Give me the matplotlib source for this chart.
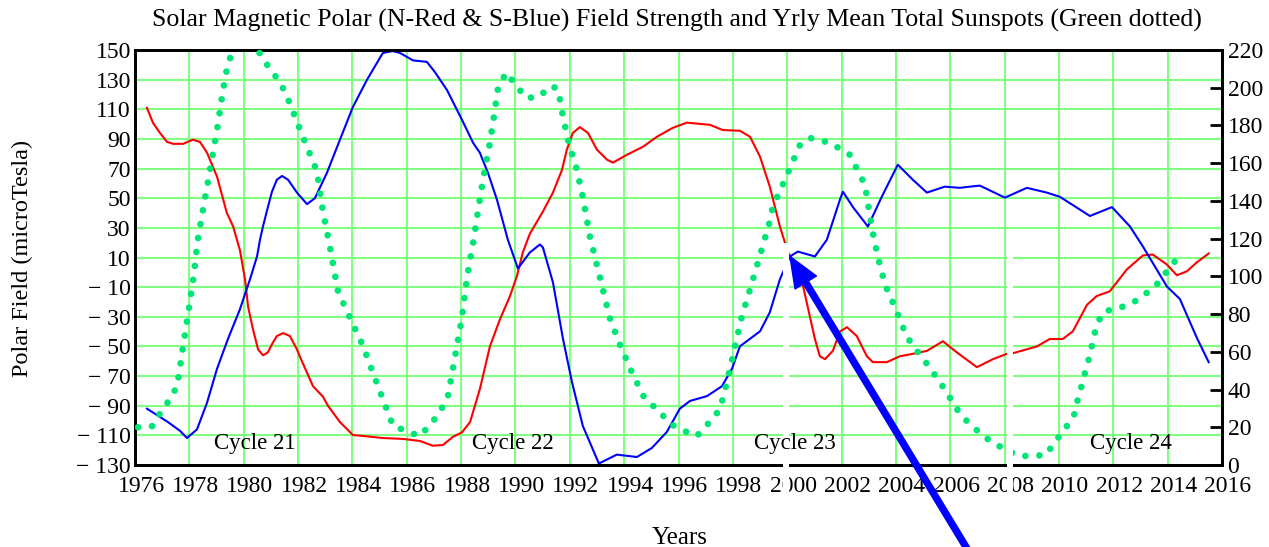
import numpy as np
import matplotlib
matplotlib.use("Agg")
import matplotlib.pyplot as plt
from matplotlib.patches import Rectangle
from matplotlib.transforms import ScaledTranslation

plt.rcParams.update({"font.family": "Liberation Serif", "font.size": 17})

RED, BLUE, SUN, GRID = "#ff0000", "#0000ff", "#00e676", "#80ff80"

# north polar field (microTesla)
north_yr = [1976.44, 1976.66, 1976.92, 1977.18, 1977.40, 1977.77, 1978.13, 1978.39, 1978.65,
            1979.02, 1979.38, 1979.61, 1979.86, 1980.05, 1980.16, 1980.34, 1980.53, 1980.71,
            1980.89, 1981.04, 1981.22, 1981.45, 1981.70, 1981.96, 1982.07, 1982.55, 1982.92,
            1983.10, 1983.54, 1984.02, 1984.39, 1985.12, 1985.86, 1986.49, 1986.96, 1987.33,
            1987.70, 1988.03, 1988.33, 1988.69, 1989.06, 1989.43, 1989.80, 1990.05, 1990.27,
            1990.53, 1991.01, 1991.38, 1991.71, 1991.89, 1992.11, 1992.37, 1992.67, 1993.00,
            1993.37, 1993.59, 1994.10, 1994.69, 1995.21, 1995.79, 1996.31, 1997.16, 1997.63,
            1998.26, 1998.63, 1999.00, 1999.36, 1999.73, 2000.03, 2000.47, 2001.02, 2001.20,
            2001.39, 2001.68, 2001.94, 2002.20, 2002.56, 2002.93, 2003.15, 2003.67, 2004.15,
            2004.62, 2005.14, 2005.73, 2006.24, 2006.98, 2007.57, 2008.08, 2008.30, 2009.19,
            2009.66, 2010.14, 2010.51, 2011.03, 2011.39, 2011.87, 2012.50, 2013.09, 2013.45,
            2013.97, 2014.34, 2014.71, 2015.07, 2015.51]
north_val = [111, 100.9, 94, 88, 86.7, 86.7, 89.5, 88, 80.7,
             64.5, 40, 31, 15, -4.8, -23, -38.4, -52, -56,
             -54, -48.5, -43, -41, -43, -52, -57, -76.8, -84,
             -90, -101, -109.8, -110.4, -111.8, -112.4, -113.8, -117, -116.5,
             -111, -108, -101, -78.8, -50, -31.7, -16, -2.8, 13.4,
             26, 41, 53.8, 69, 82.7, 94, 98, 94, 82.7,
             76, 74, 79.3, 84.7, 91.5, 97.5, 101, 99.5, 96,
             95.5, 91.5, 78, 57.8, 31, 13.4, 0, -45, -56.6,
             -58.6, -53, -40, -37, -43, -56.6, -60.6, -60.6, -56.6,
             -55, -53, -46.5, -54, -64, -58.6, -55, -54.6, -50,
             -45, -45, -39.8, -22, -16, -12.8, 2, 11.4, 12,
             5.3, -2, 0.7, 6.7, 12.7]

# south polar field (microTesla)
south_yr = [1976.44, 1976.92, 1977.21, 1977.66, 1977.91, 1978.28, 1978.65, 1979.02, 1979.42,
            1979.86, 1980.23, 1980.49, 1980.60, 1980.71, 1980.89, 1981.04, 1981.22, 1981.41,
            1981.63, 1981.96, 1982.33, 1982.62, 1983.06, 1983.54, 1984.02, 1984.54, 1985.12,
            1985.49, 1985.75, 1986.23, 1986.74, 1987.04, 1987.48, 1988.03, 1988.44, 1988.69,
            1988.99, 1989.32, 1989.72, 1990.09, 1990.53, 1990.90, 1991.01, 1991.38, 1991.75,
            1992.08, 1992.48, 1993.07, 1993.73, 1994.47, 1995.02, 1995.57, 1996.05, 1996.42,
            1997.05, 1997.60, 1997.97, 1998.26, 1999.00, 1999.36, 1999.73, 2000.10, 2000.39,
            2001.02, 2001.46, 2001.94, 2002.05, 2002.42, 2002.97, 2003.48, 2004.07, 2004.62,
            2005.14, 2005.80, 2006.35, 2006.72, 2007.09, 2008.01, 2008.82, 2009.55, 2010.03,
            2011.14, 2011.95, 2012.61, 2013.09, 2013.97, 2014.45, 2015.07, 2015.51]
south_val = [-92, -97.6, -101, -107, -111.8, -106, -88, -65, -45,
             -25, -4.8, 10.7, 22, 31, 44, 54.4, 62.5, 65,
             62.5, 53.8, 46, 50, 67, 89.4, 111.6, 130, 148,
             149.3, 148, 143, 142, 135, 123, 103, 87.4, 80.7,
             67, 49, 22, 2.6, 13.4, 18.8, 16.8, -6.8, -45,
             -74, -103.7, -129, -123, -124.6, -118.5, -107.7, -92, -86.8,
             -83.5, -76.8, -65, -49.9, -39.8, -27, -4.8, 10.7, 14,
             10.7, 22, 49, 54.4, 44, 30.9, 51, 72.6, 62.5,
             53.8, 57.8, 57, 57.8, 58.5, 50.4, 57, 53.8, 51,
             38, 44, 31, 17.4, -9.5, -18, -44, -60.6]

# yearly mean total sunspot number
sun_yr = [1976.11, 1976.63, 1976.95, 1977.29, 1977.55, 1977.77, 1977.92, 1978.14, 1978.31,
          1978.65, 1979.02, 1979.24, 1979.42, 1979.68, 1980.07, 1980.47, 1980.82, 1981.19,
          1981.52, 1981.89, 1982.29, 1982.70, 1982.91, 1983.17, 1983.47, 1983.91, 1984.38,
          1984.94, 1985.50, 1986.00, 1986.45, 1986.86, 1987.23, 1987.51, 1987.77, 1988.03,
          1988.22, 1988.48, 1988.70, 1988.87, 1989.06, 1989.21, 1989.35, 1989.65, 1990.02,
          1990.38, 1990.83, 1991.34, 1991.57, 1991.75, 1991.96, 1992.26, 1992.48, 1992.74,
          1993.11, 1993.47, 1993.84, 1994.29, 1994.73, 1995.31, 1995.72, 1996.06, 1996.67,
          1997.16, 1997.53, 1997.78, 1998.00, 1998.33, 1998.63, 1999.07, 1999.36, 1999.47,
          1999.91, 2000.47, 2000.83, 2001.57, 2002.30, 2002.86, 2003.15, 2003.34, 2003.60,
          2004.03, 2004.40, 2004.81, 2005.18, 2005.54, 2005.87, 2006.17, 2006.54, 2007.01,
          2007.53, 2008.01, 2008.48, 2009.00, 2009.52, 2009.84, 2010.21, 2010.55, 2010.66,
          2010.81, 2010.92, 2011.07, 2011.18, 2011.29, 2011.43, 2011.65, 2012.17, 2012.69,
          2013.16, 2013.60, 2013.97, 2014.38]
sun_val = [20, 20.6, 28, 35, 41.8, 63, 77, 98, 119.5,
           147.5, 177.7, 198.8, 213, 222, 224, 221, 213, 205.7,
           198, 184.5, 170, 155.5, 135, 115.8, 92, 78, 63.5,
           41.8, 20.6, 18, 15.3, 21, 28.5, 36, 57, 78,
           99.4, 121, 142, 156.5, 170.8, 185, 199, 208, 201.5,
           194.6, 195, 201, 199, 184.5, 170.8, 156.5, 142, 121,
           99.4, 78, 64, 49, 36, 28, 21.7, 19, 15.3,
           23, 29.6, 43.9, 57.6, 78.8, 93, 114.7, 129, 137,
           151, 169.7, 173.4, 170.8, 164.5, 148.6, 123, 110, 95.7,
           81.4, 68, 59.8, 52.9, 45.5, 38.6, 31, 24.3, 18,
           12, 8.5, 4.8, 4.8, 5.3, 12, 19, 26, 33,
           40.7, 47, 54.5, 61, 68.7, 75.6, 81.4, 83, 85.7,
           90.4, 95.7, 102.6, 110]

cycle_names = ["Cycle 21", "Cycle 22", "Cycle 23", "Cycle 24"]
cycle_x = [1980.41, 1989.91, 2000.28, 2012.64]

W, H = 1269, 547
fig = plt.figure(figsize=(W / 100, H / 100), dpi=100)
ax = fig.add_axes([135 / W, 82 / H, 1087 / W, 415 / H])

ax.plot(north_yr, north_val, color=RED, lw=1.5, zorder=3)
ax.plot(south_yr, south_val, color=BLUE, lw=1.5, zorder=3)
ax.set_xlim(1976, 2016)
ax.set_ylim(-130, 150)
ax.set_xticks(np.arange(1976, 2017, 2))
left_ticks = np.arange(-130, 151, 20)
ax.set_yticks(left_ticks)
ax.set_yticklabels([f"\u2212 {-v}" if v < 0 else f"{v}" for v in left_ticks])
ax.tick_params(axis="both", length=0, labelsize=17)
ax.tick_params(axis="x", pad=8)
ax.tick_params(axis="y", pad=3)
# year labels sit a few pixels right of their grid lines
nudge = ScaledTranslation(6 / 100, 0, fig.dpi_scale_trans)
for lab in ax.get_xticklabels():
    lab.set_transform(lab.get_transform() + nudge)
ax.grid(True, color=GRID, lw=1.5)
ax.set_axisbelow(True)
for s in ax.spines.values():
    s.set_linewidth(2)

ax2 = ax.twinx()
ax2.plot(sun_yr, sun_val, color=SUN, lw=4.8, ls=(0, (0.01, 2.1)),
         dash_capstyle="round", zorder=3)
ax2.set_ylim(0, 220)
ax2.set_yticks(np.arange(0, 221, 20))
ax2.tick_params(axis="y", direction="in", length=9, width=2, pad=4, labelsize=17)
for s in ax2.spines.values():
    s.set_linewidth(2)

# white break strips through the lower half of the panel
for x0 in (783, 1007):
    ax2.add_patch(Rectangle((x0 / W, 1 - 505 / H), 6 / W, 262 / H, transform=fig.transFigure,
                            facecolor="white", edgecolor="none", clip_on=False, zorder=3.5))

for name, cx in zip(cycle_names, cycle_x):
    ax2.text(cx, 11.6, name, ha="center", va="center", fontsize=16.5, zorder=4)

ax2.annotate("", xy=(2000.10, 110.6), xycoords="data",
             xytext=(968 / W, -0.006), textcoords="figure fraction",
             arrowprops=dict(arrowstyle="simple,head_length=2.2,head_width=1.8,tail_width=0.43",
                             mutation_scale=10, color=BLUE, shrinkA=0, shrinkB=0),
             annotation_clip=False, zorder=5)

fig.text(677 / W, 1 - 20 / H,
         "Solar Magnetic Polar (N-Red & S-Blue) Field Strength and Yrly Mean Total Sunspots (Green dotted)",
         ha="center", va="center", fontsize=18.6)
fig.text(680 / W, 1 - 538 / H, "Years", ha="center", va="center", fontsize=18)
fig.text(22 / W, 1 - 258 / H, "Polar Field (microTesla)", ha="center", va="center",
         rotation=90, fontsize=17.5)

fig.savefig("out.png", dpi=100)
